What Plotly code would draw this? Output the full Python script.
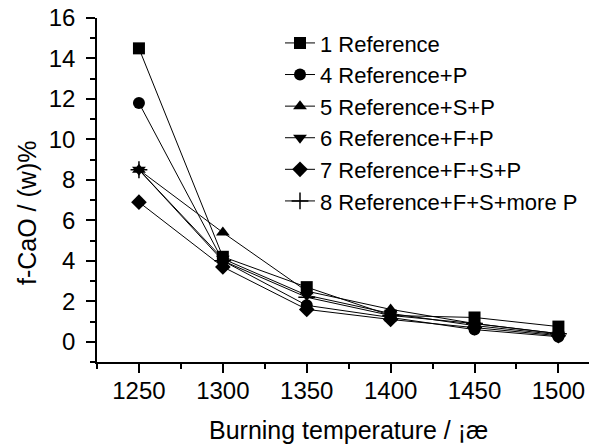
import plotly.graph_objects as go

temperatures = [1250, 1300, 1350, 1400, 1450, 1500]
names = ["1 Reference", "4 Reference+P", "5 Reference+S+P", "6 Reference+F+P",
         "7 Reference+F+S+P", "8 Reference+F+S+more P"]
s1 = [14.5, 4.2, 2.7, 1.3, 1.2, 0.75]
s4 = [11.8, 4.0, 1.8, 1.2, 0.6, 0.25]
s5 = [8.5, 5.4, 2.5, 1.6, 0.9, 0.4]
s6 = [8.5, 4.1, 2.3, 1.4, 0.8, 0.35]
s7 = [6.9, 3.7, 1.6, 1.1, 0.7, 0.3]
s8 = [8.5, 4.0, 2.2, 1.3, 0.9, 0.4]
series = [s1, s4, s5, s6, s7, s8]
symbols = ["square", "circle", "triangle-up", "triangle-down", "diamond", "cross-thin"]
x_title = "Burning temperature / ¡æ"
y_title = "f-CaO / (w)%"

FONT = "Liberation Sans, Arial"
# page body has an 8px margin, so the figure is drawn 8px smaller
W, H = 589, 438
ML, MT, MR, MB = 89, 10, 0, 84
PW, PH = W - ML - MR, H - MT - MB

fig = go.Figure()
for nm, ys, sym in zip(names, series, symbols):
    fig.add_trace(go.Scatter(
        x=temperatures, y=ys, name=nm, mode="lines+markers",
        line=dict(color="black", width=1),
        marker=dict(symbol=sym, size=12, color="black",
                    line=dict(color="black", width=1.5 if sym == "cross-thin" else 0)),
    ))

axis_common = dict(
    showline=True, linecolor="black", linewidth=1.5, showgrid=False, zeroline=False,
    ticks="outside", ticklen=9, tickwidth=1.5, tickcolor="black",
    tickfont=dict(family=FONT, size=24, color="black"),
    automargin=False, ticklabeloverflow="allow",
)
fig.update_xaxes(range=[1225, 1523], tickvals=temperatures, ticklabelstandoff=-3,
                 minor=dict(ticks="outside", ticklen=5, tickwidth=1.5, tickcolor="black", dtick=25, tick0=1225),
                 **axis_common)
fig.update_yaxes(range=[-1, 16], tickvals=[0, 2, 4, 6, 8, 10, 12, 14, 16], ticklabelstandoff=6,
                 minor=dict(ticks="outside", ticklen=5, tickwidth=1.5, tickcolor="black", dtick=1, tick0=0),
                 **axis_common)
fig.add_annotation(text=x_title, xref="paper", yref="paper", x=(340 - ML) / PW, y=(MT + PH - 422) / PH,
                   xanchor="center", yanchor="middle", showarrow=False,
                   font=dict(family=FONT, size=25, color="black"))
fig.add_annotation(text=y_title, xref="paper", yref="paper", x=(19 - ML) / PW, y=(MT + PH - 205) / PH,
                   xanchor="center", yanchor="middle", showarrow=False, textangle=-90,
                   font=dict(family=FONT, size=25, color="black"))
fig.update_layout(
    width=W, height=H,
    margin=dict(l=ML, r=MR, t=MT, b=MB),
    plot_bgcolor="white", paper_bgcolor="white",
    showlegend=True,
    legend=dict(x=0.366, y=0.988, xanchor="left", yanchor="top", bgcolor="rgba(0,0,0,0)",
                font=dict(family=FONT, size=22, color="black")),
)
fig.write_html("out.html")
